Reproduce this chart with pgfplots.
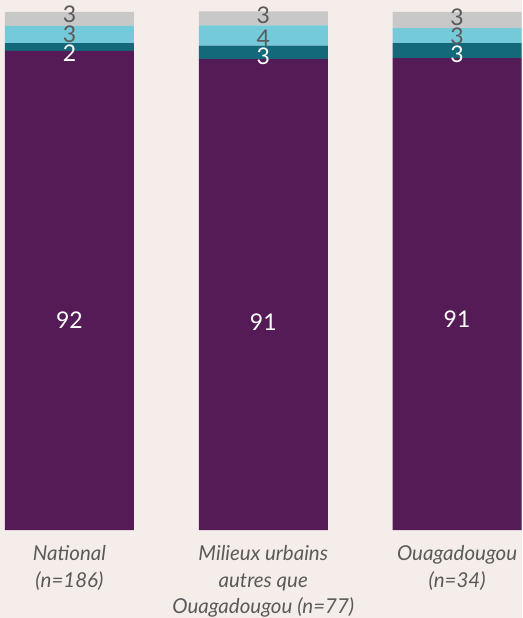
\documentclass[border=0pt]{standalone}
\usepackage{pgfplots}
\pgfplotsset{compat=1.18}
\usepackage{fontspec}
\setmainfont{Lato}
\definecolor{bg}{HTML}{F5EDE9}
\definecolor{cpurple}{HTML}{541B57}
\definecolor{cteal}{HTML}{13687A}
\definecolor{ccyan}{HTML}{74CAD8}
\definecolor{cgray}{HTML}{C8C8C8}
\definecolor{labgray}{HTML}{5A5A5A}
\begin{document}
\begin{tikzpicture}
\path[use as bounding box, fill=bg] (0,-88pt) rectangle (522pt,530pt);
\begin{axis}[at={(0,0)}, anchor=south west, scale only axis,
  width=522pt, height=518pt,
  xmin=-0.3582, xmax=2.335, ymin=0, ymax=100,
  ybar stacked, bar width=129pt,
  axis line style={draw=none}, major tick length=0pt,
  ytick=\empty,
  xtick={0,1,2},
  xticklabels={{National\\(n=186)},{Milieux urbains\\autres que\\Ouagadougou (n=77)},{Ouagadougou\\(n=34)}},
  xticklabel style={font=\itshape\fontsize{20.5}{26.5}\selectfont, text=labgray, align=center, yshift=-12pt},
]
\addplot[fill=cpurple, draw=none] coordinates {(0,92.5) (1,90.9) (2,91.1)};
\addplot[fill=cteal, draw=none] coordinates {(0,1.5) (1,2.6) (2,2.9)};
\addplot[fill=ccyan, draw=none] coordinates {(0,3.3) (1,3.9) (2,2.9)};
\addplot[fill=cgray, draw=none] coordinates {(0,2.7) (1,2.7) (2,3.1)};
\end{axis}
\begin{axis}[at={(0,0)}, anchor=south west, scale only axis,
  width=522pt, height=518pt,
  xmin=-0.3582, xmax=2.335, ymin=0, ymax=100,
  hide axis, clip=false]
\addplot[draw=none, mark=none, nodes near coords, point meta=explicit symbolic,
  nodes near coords style={anchor=center, font=\fontsize{23}{23}\selectfont, text=white}]
  table[meta=label] {
x y label
0 40.5 92
1 40.2 91
2 40.7 91
0 92.0 2
1 91.4 3
2 91.8 3
};
\addplot[draw=none, mark=none, nodes near coords, point meta=explicit symbolic,
  nodes near coords style={anchor=center, font=\fontsize{23}{23}\selectfont, text=labgray}]
  table[meta=label] {
x y label
0 99.5 3
1 99.4 3
2 99.0 3
0 95.7 3
1 95.0 4
2 95.4 3
};
\end{axis}
\end{tikzpicture}
\end{document}
